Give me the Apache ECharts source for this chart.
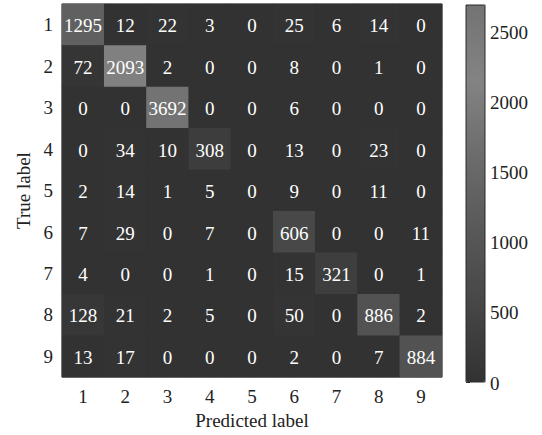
<!DOCTYPE html>
<html>
<head>
<meta charset="utf-8">
<script src="https://cdn.jsdelivr.net/npm/echarts@6/dist/echarts.min.js"></script>
<style>html,body{margin:0;padding:0;background:#fff}#c{width:542px;height:435px}</style>
</head>
<body>
<div id="c"></div>
<script>
const predictedLabels = ['1','2','3','4','5','6','7','8','9'];
const trueLabels = ['1','2','3','4','5','6','7','8','9'];
const row1 = [1295, 12, 22, 3, 0, 25, 6, 14, 0];
const row2 = [72, 2093, 2, 0, 0, 8, 0, 1, 0];
const row3 = [0, 0, 3692, 0, 0, 6, 0, 0, 0];
const row4 = [0, 34, 10, 308, 0, 13, 0, 23, 0];
const row5 = [2, 14, 1, 5, 0, 9, 0, 11, 0];
const row6 = [7, 29, 0, 7, 0, 606, 0, 0, 11];
const row7 = [4, 0, 0, 1, 0, 15, 321, 0, 1];
const row8 = [128, 21, 2, 5, 0, 50, 0, 886, 2];
const row9 = [13, 17, 0, 0, 0, 2, 0, 7, 884];
const rows = [row1,row2,row3,row4,row5,row6,row7,row8,row9];
const colorbarTicks = [0, 500, 1000, 1500, 2000, 2500];
const colorbarMax = 2690;

const data = [];
rows.forEach((r, i) => r.forEach((v, j) => data.push([j, i, v])));
const tickData = colorbarTicks.map(v => [1, v]);

const font = 'Liberation Serif';
const txt = (extra) => Object.assign({fontFamily: font, fontSize: 19, color: '#222', fontWeight: 'normal', fontStyle: 'normal'}, extra || {});
const chart = echarts.init(document.getElementById('c'), null, {renderer: 'svg'});
chart.setOption({
  backgroundColor: '#fff',
  animationDuration: 0,
  animationDurationUpdate: 0,
  textStyle: {fontFamily: font},
  grid: [
    {left: 62, right: 100, top: 4, bottom: 53, show: true, borderColor: '#1e1e1e', borderWidth: 1, backgroundColor: '#323232'},
    {left: 466, width: 19, top: 5, bottom: 53, show: true, borderColor: '#2a2a2a', borderWidth: 1, backgroundColor: 'transparent', z: 10}
  ],
  xAxis: [
    {type: 'category', gridIndex: 0, data: predictedLabels, position: 'bottom',
     name: 'Predicted label', nameLocation: 'middle', nameGap: 32,
     nameTextStyle: txt(),
     axisLine: {show: false},
     axisTick: {show: true, inside: true, alignWithLabel: true, length: 5, lineStyle: {color: '#1a1a1a'}},
     axisLabel: txt({margin: 10}),
     splitLine: {show: false}},
    {type: 'value', gridIndex: 1, show: false, min: 0, max: 1}
  ],
  yAxis: [
    {type: 'category', gridIndex: 0, data: trueLabels, inverse: true,
     name: 'True label', nameLocation: 'middle', nameGap: 29,
     nameTextStyle: txt(),
     axisLine: {show: false},
     axisTick: {show: true, inside: true, alignWithLabel: true, length: 5, lineStyle: {color: '#1a1a1a'}},
     axisLabel: txt({margin: 9}),
     splitLine: {show: false}},
    {type: 'value', gridIndex: 1, position: 'right', min: 0, max: colorbarMax, interval: 500,
     axisLine: {show: false},
     axisTick: {show: true, inside: false, length: 4, lineStyle: {color: '#333'}},
     axisLabel: {show: false},
     splitLine: {show: false}}
  ],
  visualMap: {
    type: 'continuous', min: 0, max: colorbarMax, calculable: false,
    seriesIndex: 0, orient: 'vertical', left: 466, top: 5, padding: 0,
    itemWidth: 19, itemHeight: 377, text: ['', ''], showLabel: false,
    inRange: {color: ['#323232', '#464646', '#585858', '#6c6c6c', '#838383', '#737373']},
    outOfRange: {color: '#737373'}
  },
  series: [
    {
      type: 'heatmap', xAxisIndex: 0, yAxisIndex: 0, data: data,
      label: {show: false},
      itemStyle: {borderWidth: 0},
      emphasis: {disabled: true}
    },
    {
      type: 'custom', coordinateSystem: 'cartesian2d', xAxisIndex: 0, yAxisIndex: 0,
      data: data, z: 5, silent: true,
      renderItem: (params, api) => {
        const p = api.coord([api.value(0), api.value(1)]);
        return {type: 'text', x: p[0], y: p[1] + 1,
          style: {text: String(api.value(2)), fill: '#fff', fontFamily: font, fontSize: 19,
                  align: 'center', verticalAlign: 'middle'}};
      }
    },
    {
      type: 'custom', coordinateSystem: 'cartesian2d', xAxisIndex: 1, yAxisIndex: 1,
      data: tickData, z: 12, silent: true, clip: false,
      renderItem: (params, api) => {
        const p = api.coord([api.value(0), api.value(1)]);
        return {type: 'text', x: p[0] + 5, y: p[1] + 1,
          style: {text: String(api.value(1)), fill: '#222', fontFamily: font, fontSize: 19,
                  align: 'left', verticalAlign: 'middle'}};
      }
    }
  ]
});
</script>
</body>
</html>
